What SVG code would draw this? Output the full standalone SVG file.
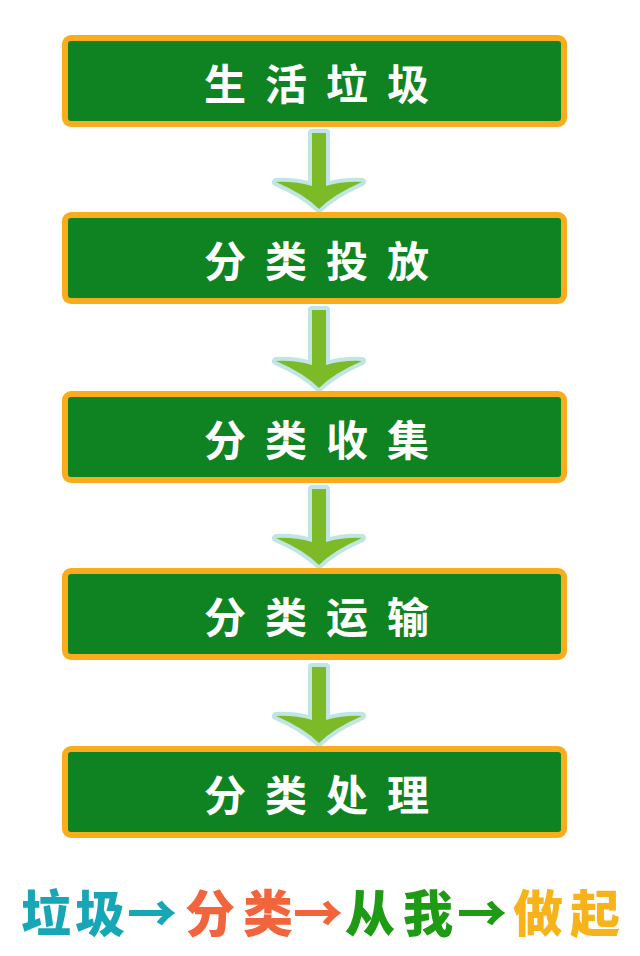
<svg xmlns="http://www.w3.org/2000/svg" width="640" height="956" viewBox="0 0 640 956">
<style>
.frame{fill:#f9ad1d}
.panel{fill:#0f8321}
.lbl{font-family:"Noto Sans CJK SC","Noto Sans",sans-serif;font-weight:bold;font-size:42px;fill:#ffffff;text-anchor:middle;dominant-baseline:central}
.arr{fill:#7dba28;stroke:#bfe6e4;stroke-width:8;stroke-linejoin:round;paint-order:stroke}
.slogan{font-family:"Noto Sans CJK SC","Noto Sans",sans-serif;font-weight:900;font-size:50px;text-anchor:middle;dominant-baseline:central}
</style>
<rect width="640" height="956" fill="#ffffff"/>
<g id="connectors">
<path class="arr" d="M312,133 L326,133 L326,186 Q344,181 362,182 Q334,194 319,209 Q304,194 276,182 Q294,181 312,186 Z"/>
<path class="arr" d="M312,310 L326,310 L326,365 Q344,360 362,361 Q334,373 319,388 Q304,373 276,361 Q294,360 312,365 Z"/>
<path class="arr" d="M312,489 L326,489 L326,542 Q344,537 362,538 Q334,550 319,565 Q304,550 276,538 Q294,537 312,542 Z"/>
<path class="arr" d="M312,667 L326,667 L326,720 Q344,715 362,716 Q334,728 319,743 Q304,728 276,716 Q294,715 312,720 Z"/>
</g>
<g id="n1">
<rect class="frame" x="62" y="35" width="505" height="92" rx="9"/>
<rect class="panel" x="68" y="41" width="493" height="80" rx="3"/>
<text class="lbl" x="225 286 347 408" y="81">生活垃圾</text>
</g>
<g id="n2">
<rect class="frame" x="62" y="212" width="505" height="92" rx="9"/>
<rect class="panel" x="68" y="218" width="493" height="80" rx="3"/>
<text class="lbl" x="225 286 347 408" y="258">分类投放</text>
</g>
<g id="n3">
<rect class="frame" x="62" y="391" width="505" height="92" rx="9"/>
<rect class="panel" x="68" y="397" width="493" height="80" rx="3"/>
<text class="lbl" x="225 286 347 408" y="437">分类收集</text>
</g>
<g id="n4">
<rect class="frame" x="62" y="568" width="505" height="92" rx="9"/>
<rect class="panel" x="68" y="574" width="493" height="80" rx="3"/>
<text class="lbl" x="225 286 347 408" y="614">分类运输</text>
</g>
<g id="n5">
<rect class="frame" x="62" y="746" width="505" height="92" rx="9"/>
<rect class="panel" x="68" y="752" width="493" height="80" rx="3"/>
<text class="lbl" x="225 286 347 408" y="792">分类处理</text>
</g>
<g id="slogan">
<text class="slogan" y="910"><tspan x="46 100 152" fill="#17a6b5">垃圾→</tspan><tspan x="210 268 318" fill="#f2643c">分类→</tspan><tspan x="370 428 482" fill="#1e9a14">从我→</tspan><tspan x="538 595" fill="#f9b31a">做起</tspan></text>
</g>
</svg>
